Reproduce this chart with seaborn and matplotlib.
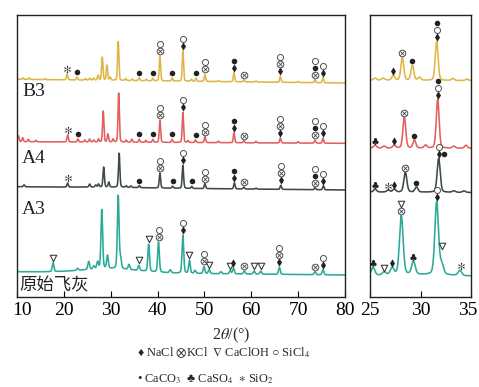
import numpy as np
import pandas as pd
import seaborn as sns
import matplotlib
matplotlib.use("Agg")
import matplotlib.pyplot as plt
import matplotlib.transforms as mtransforms

sns.set_theme(style="ticks")
plt.rcParams['font.family'] = ['Liberation Serif', 'DejaVu Sans']
plt.rcParams['mathtext.fontset'] = 'stix'

# ---------------- data ----------------
sample_names = ["B3", "A4", "A3", "原始飞灰"]
colors = ["#DFB646", "#E45F5F", "#3E4949", "#2BAA98"]

# peak positions (2theta, deg) and heights (arb. units)
b3_pos = [11.3, 12.6, 16.0, 20.7, 22.8, 24.6, 25.5, 26.3, 27.3, 28.2, 29.2, 29.9, 31.6, 33.2, 34.6,
          36.1, 37.6, 39.0, 40.5, 43.1, 45.4, 47.2, 48.2, 50.1, 53.0, 56.3, 58.4, 61.0, 66.2, 70.0, 73.6, 75.3]
b3_hgt = [1.5, 1.5, 1.0, 6, 3, 1.5, 2, 2, 5, 23, 15, 3, 39, 2, 1.5,
          3, 1.5, 2.5, 25, 3, 30, 2, 3, 7, 1, 9, 2, 1, 6, 1, 3, 5]
a4_pos = [10.3, 11.2, 12.4, 14.0, 20.8, 23.0, 24.5, 25.5, 26.4, 27.4, 28.4, 29.4, 30.5, 31.7, 33.3, 34.5,
          36.1, 37.5, 39.0, 40.5, 43.1, 45.4, 46.5, 48.1, 50.1, 53.0, 56.3, 58.4, 61.0, 66.2, 70.0, 73.6, 75.3]
a4_hgt = [6, 4, 2.5, 1.5, 7, 3, 2, 3, 2, 3, 31, 8, 3, 49, 2, 3,
          3, 2, 3, 22, 3, 30, 2, 2.5, 6, 1.5, 10, 2, 1.5, 5, 1.5, 3, 5]
a3_pos = [11.5, 20.8, 25.5, 26.8, 27.4, 28.5, 29.6, 31.8, 33.3, 34.3,
          36.1, 40.5, 43.2, 45.4, 47.3, 50.1, 56.4, 58.4, 61.0, 66.3, 73.6, 75.4]
a3_hgt = [2, 4, 3, 2, 3, 20, 5, 34, 1.5, 1.5,
          2, 15, 2, 23, 2, 5, 6, 2, 1, 4, 2, 4]
raw_pos = [17.7, 22.9, 25.3, 26.4, 27.2, 28.1, 29.3, 31.6, 32.1, 33.9, 36.0, 38.1, 40.2, 42.7, 45.4,
           46.8, 48.0, 49.9, 51.0, 53.5, 55.5, 56.2, 58.5, 60.6, 62.0, 66.0, 73.6, 75.3]
raw_hgt = [9, 2, 8, 3, 7, 59, 13, 73, 10, 5, 5, 27, 30, 3, 38,
           13, 3, 7, 4, 2, 3, 6, 3, 3, 3, 7, 3, 5]
peak_fwhm = [0.33, 0.33, 0.35, 0.42]

# background: value at 10 deg and at 80 deg, plus a broad amorphous hump (center, height, fwhm)
bg_start = [217.7, 155.3, 110.3, 25.3]
bg_end = [214.0, 153.7, 107.0, 22.0]
hump = [(30.0, 0.0, 14.0), (30.0, 0.0, 14.0), (30.0, 0.5, 14.0), (30.0, 4.0, 14.0)]
inset_shift = [0.0, -6.0, -5.0, -6.0]

# phase markers (anchor 2theta, stacked symbols from bottom to top)
b3_mark_pos = [20.7, 22.8, 36.1, 39.0, 40.5, 43.1, 45.4, 48.2, 50.1, 56.3, 58.4, 66.2, 73.6, 75.3]
b3_mark_sym = ["*", "●", "●", "●", "⊗○", "●", "♦○", "●", "⊗○", "♦●", "⊗", "♦⊗○", "⊗●○", "♦○"]
a4_mark_pos = [20.8, 23.0, 36.1, 39.0, 40.5, 43.1, 45.4, 48.1, 50.1, 56.3, 58.4, 66.2, 73.6, 75.3]
a4_mark_sym = ["*", "●", "●", "●", "⊗○", "●", "♦○", "●", "⊗○", "♦●", "⊗", "♦⊗○", "⊗●○", "♦○"]
a3_mark_pos = [20.8, 36.1, 40.5, 43.2, 45.4, 47.3, 50.1, 56.4, 58.4, 66.3, 73.6, 75.4]
a3_mark_sym = ["*", "●", "⊗○", "●", "♦○", "●", "⊗○", "♦●", "⊗", "♦⊗○", "⊗●○", "♦○"]
raw_mark_pos = [17.7, 36.0, 38.1, 40.2, 45.4, 46.8, 49.9, 51.0, 55.5, 56.2, 58.5, 60.6, 62.0, 66.0, 73.6, 75.3]
raw_mark_sym = ["▽", "▽", "▽", "⊗○", "♦○", "▽", "⊗○", "▽", "▽", "♦", "⊗", "▽", "▽", "♦⊗○", "⊗", "♦○"]

b3_inset_pos = [27.3, 28.2, 29.2, 31.6]
b3_inset_sym = ["♦", "⊗", "●", "♦○●"]
b3_inset_dx = [0, 0, 0, 0]
a4_inset_pos = [25.5, 27.4, 28.4, 29.4, 31.7]
a4_inset_sym = ["♣", "♦", "⊗", "●", "♦○●"]
a4_inset_dx = [0, 0, 0, 0, 0]
a3_inset_pos = [25.5, 26.8, 27.4, 28.5, 29.6, 31.8, 31.8]
a3_inset_sym = ["♣", "*", "♦", "⊗", "●", "♦○", "●"]
a3_inset_dx = [0, 0, 0, 0, 0, 0, 0.55]
raw_inset_pos = [25.3, 26.4, 27.2, 28.1, 29.3, 31.6, 32.1, 34.0]
raw_inset_sym = ["♣", "▽", "♦", "⊗▽", "♣", "♦○", "▽", "*"]
raw_inset_dx = [0, 0, 0, 0, 0, 0, 0, 0]

main_ticks = [10, 20, 30, 40, 50, 60, 70, 80]
inset_ticks = [25, 30, 35]

# ---------------- build patterns ----------------
tt = np.linspace(10, 80, 3501)
peak_sets = [(b3_pos, b3_hgt), (a4_pos, a4_hgt), (a3_pos, a3_hgt), (raw_pos, raw_hgt)]


def pattern(i):
    pos, hgt = peak_sets[i]
    w = peak_fwhm[i]
    y = np.interp(tt, [10, 80], [bg_start[i], bg_end[i]])
    hc, hh, hw = hump[i]
    y = y + hh * np.exp(-4 * np.log(2) * ((tt - hc) / hw) ** 2)
    for c, h in zip(pos, hgt):
        d = (tt - c) / w
        y = y + h * (0.75 * np.exp(-4 * np.log(2) * d ** 2) + 0.25 / (1 + 4 * d ** 2))
    return y


curves = [pattern(i) for i in range(4)]
frames = []
for i, name in enumerate(sample_names):
    frames.append(pd.DataFrame({"tt": tt, "I": curves[i], "sample": name}))
df = pd.concat(frames, ignore_index=True)

# ---------------- figure ----------------
W, H = 479, 387
fig = plt.figure(figsize=(W / 100, H / 100), dpi=100)
ax = fig.add_axes([17 / W, 1 - 297 / H, 328 / W, 282 / H])
axi = fig.add_axes([370 / W, 1 - 297 / H, 101 / W, 282 / H])

for i, name in enumerate(sample_names):
    d = df[df["sample"] == name]
    sns.lineplot(data=d, x="tt", y="I", ax=ax, color=colors[i], lw=1.15,
                 estimator=None, sort=False, legend=False)
    d2 = d[(d["tt"] >= 24.8) & (d["tt"] <= 35.2)].copy()
    d2["I"] = d2["I"] + inset_shift[i]
    sns.lineplot(data=d2, x="tt", y="I", ax=axi, color=colors[i], lw=1.15,
                 estimator=None, sort=False, legend=False)

mk = "#222222"
gl_style = {
    "♦": dict(marker="d", s=18, c=mk, linewidths=0),
    "●": dict(marker="o", s=16, c=mk, linewidths=0),
    "○": dict(marker="o", s=19, facecolors="white", edgecolors="#444444", linewidths=0.65),
    "⊗": dict(marker="o", s=23, facecolors="white", edgecolors="#444444", linewidths=0.65),
    "▽": dict(marker="v", s=22, facecolors="white", edgecolors="#333333", linewidths=0.75),
    "♣": dict(marker="$\\clubsuit$", s=26, c=mk, linewidths=0),
    "*": dict(marker="$*$", s=28, c=mk, linewidths=0),
}


def draw_marks(a, y, positions, symbols, dxs=None, shift=0.0, gap=5.0, step=7.0):
    if dxs is None:
        dxs = [0] * len(positions)
    for c, s, dx in zip(positions, symbols, dxs):
        m = (tt >= c - 0.22) & (tt <= c + 0.22)
        top = y[m].max() + shift
        for k, ch in enumerate(s):
            yy = top + gap + k * step
            a.scatter([c + dx], [yy], zorder=5, clip_on=False, **gl_style[ch])
            if ch == "⊗":
                a.scatter([c + dx], [yy], marker="x", s=9, c="#444444", linewidths=0.6, zorder=6)


main_marks = [(b3_mark_pos, b3_mark_sym), (a4_mark_pos, a4_mark_sym),
              (a3_mark_pos, a3_mark_sym), (raw_mark_pos, raw_mark_sym)]
inset_marks = [(b3_inset_pos, b3_inset_sym, b3_inset_dx), (a4_inset_pos, a4_inset_sym, a4_inset_dx),
               (a3_inset_pos, a3_inset_sym, a3_inset_dx), (raw_inset_pos, raw_inset_sym, raw_inset_dx)]
for i in range(4):
    draw_marks(ax, curves[i], *main_marks[i])
    p, s, dx = inset_marks[i]
    draw_marks(axi, curves[i], p, s, dx, shift=inset_shift[i], gap=4.0)

for a, lim, ticks in [(ax, (10, 80), main_ticks), (axi, (25, 35), inset_ticks)]:
    a.set_xlim(*lim)
    a.set_ylim(0, 282)
    a.set_xticks(ticks)
    a.set_yticks([])
    a.set_xlabel("")
    a.set_ylabel("")
    a.tick_params(axis="x", direction="in", length=4, width=0.8, labelsize=14, pad=3.5,
                  colors="black", top=False)
    for sp in a.spines.values():
        sp.set_visible(True)
        sp.set_linewidth(1.0)
        sp.set_color("#222222")

# nudge edge tick labels like the reference
fig.canvas.draw()
lab0 = ax.get_xticklabels()[0]
lab0.set_transform(lab0.get_transform() + mtransforms.ScaledTranslation(5 / 100, 0, fig.dpi_scale_trans))
labL = axi.get_xticklabels()[-1]
labL.set_transform(labL.get_transform() + mtransforms.ScaledTranslation(-3 / 100, 0, fig.dpi_scale_trans))

# sample labels
label_y = [206, 138.5, 87, 11.5]
for name, yy in zip(sample_names[:3], label_y[:3]):
    ax.text(11.05, yy, name, fontsize=14, ha="left", va="center", color="#222222")
ax.text(10.6, label_y[3], sample_names[3], fontsize=12.5, ha="left", va="center", color="#222222",
        family=["Noto Sans CJK SC", "DejaVu Sans"])

fig.text(231 / W, 1 - 335 / H, r"2$\theta$/(°)", fontsize=11.5, ha="center", va="center")
fig.text(137 / W, 1 - 353 / H, r"♦ NaCl $\otimes$KCl  $\nabla$ CaClOH ○ SiCl$_4$", fontsize=8.9,
         ha="left", va="center")
fig.text(137 / W, 1 - 379 / H, r"• CaCO$_3$  ♣ CaSO$_4$  $\ast$ SiO$_2$", fontsize=8.9,
         ha="left", va="center")

fig.savefig("out.png", dpi=100)
